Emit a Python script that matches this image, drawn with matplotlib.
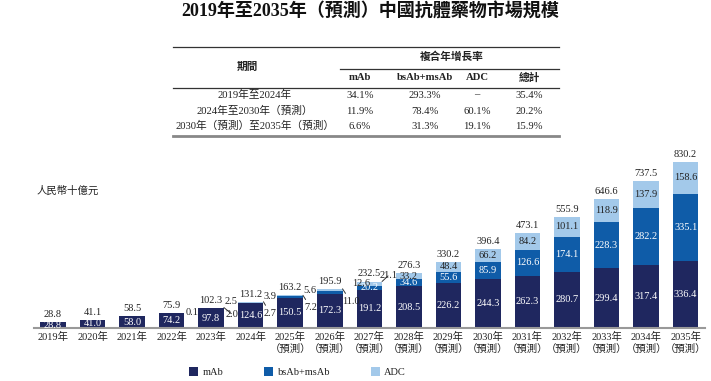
import matplotlib
matplotlib.use("Agg")
import matplotlib.pyplot as plt
from matplotlib.lines import Line2D
from matplotlib.patches import Patch
import numpy as np

plt.rcParams['font.family'] = ['Liberation Serif', 'Noto Sans CJK TC']

years = ["2019年", "2020年", "2021年", "2022年", "2023年", "2024年",
         "2025年\n（預測）", "2026年\n（預測）", "2027年\n（預測）", "2028年\n（預測）",
         "2029年\n（預測）", "2030年\n（預測）", "2031年\n（預測）", "2032年\n（預測）",
         "2033年\n（預測）", "2034年\n（預測）", "2035年\n（預測）"]
mab = [28.8, 41.0, 58.0, 74.2, 97.8, 124.6, 150.5, 172.3, 191.2, 208.5, 226.2,
       244.3, 262.3, 280.7, 299.4, 317.4, 336.4]
bsab = [0.0, 0.1, 0.5, 1.6, 2.0, 2.7, 7.2, 11.0, 20.2, 34.6, 55.6, 85.9, 126.6,
        174.1, 228.3, 282.2, 335.1]
adc = [0.0, 0.0, 0.0, 0.1, 2.5, 3.9, 5.6, 12.6, 21.1, 33.2, 48.4, 66.2, 84.2,
       101.1, 118.9, 137.9, 158.6]
totals = [28.8, 41.1, 58.5, 75.9, 102.3, 131.2, 163.2, 195.9, 232.5, 276.3, 330.2,
          396.4, 473.1, 555.9, 646.6, 737.5, 830.2]

table_periods = ["2019年至2024年", "2024年至2030年（預測）", "2030年（預測）至2035年（預測）"]
table_cols = ["mAb", "bsAb+msAb", "ADC", "總計"]
table_vals = [["34.1%", "293.3%", "–", "35.4%"],
              ["11.9%", "78.4%", "60.1%", "20.2%"],
              ["6.6%", "31.3%", "19.1%", "15.9%"]]

C_MAB = "#1f275f"
C_BS = "#0f5ca8"
C_ADC = "#a3c9ea"
TXT = "#222222"

W, H = 711, 381
fig = plt.figure(figsize=(W / 100, H / 100), dpi=100)

def fx(px):
    return px / W

def fy(py):
    return 1 - py / H

# Title
fig.text(fx(370), fy(12), "2019年至2035年（預測）中國抗體藥物市場規模", ha="center", va="center",
         fontsize=13, fontweight="bold", color="#111111")

# Table
def hline(x0, x1, y, lw=0.9, color="#333333"):
    fig.add_artist(Line2D([fx(x0), fx(x1)], [fy(y), fy(y)], lw=lw, color=color))

hline(173, 559, 47)
hline(340, 559, 69)
hline(173, 559, 88)
hline(173, 559, 136, lw=2.0, color="#888888")

fs_t = 7.7
fig.text(fx(247), fy(67), "期間", ha="center", va="center", fontsize=fs_t, fontweight="bold", color=TXT)
fig.text(fx(452), fy(57), "複合年增長率", ha="center", va="center", fontsize=fs_t, fontweight="bold", color=TXT)
col_x = [360, 425, 477, 529]
for cx, name in zip(col_x, table_cols):
    fig.text(fx(cx), fy(78), name, ha="center", va="center", fontsize=fs_t, fontweight="bold", color=TXT)
row_y = [95, 111, 126]
for ry, per, vals in zip(row_y, table_periods, table_vals):
    fig.text(fx(255), fy(ry), per, ha="center", va="center", fontsize=fs_t, color=TXT)
    for cx, v in zip(col_x, vals):
        fig.text(fx(cx), fy(ry), v, ha="center", va="center", fontsize=fs_t, color=TXT)

# Unit label
fig.text(fx(37), fy(191), "人民幣十億元", ha="left", va="center", fontsize=7.5, color=TXT, style="italic")

# Bars
ax = fig.add_axes([fx(34), fy(328), fx(705) - fx(34), fy(150) - fy(328)])
x = np.arange(len(years))
bw = 0.645
mab_a = np.array(mab)
bs_a = np.array(bsab)
adc_a = np.array(adc)
ax.bar(x, mab_a, bw, color=C_MAB, label="mAb")
ax.bar(x, bs_a, bw, bottom=mab_a, color=C_BS, label="bsAb+msAb")
ax.bar(x, adc_a, bw, bottom=mab_a + bs_a, color=C_ADC, label="ADC")
ax.set_xlim(-0.48, 16.49)
ax.set_ylim(0, 890)
for s in ["top", "right", "left"]:
    ax.spines[s].set_visible(False)
ax.spines["bottom"].set_color("#999999")
ax.spines["bottom"].set_linewidth(1.5)
ax.set_yticks([])
ax.set_xticks(x)
ax.set_xticklabels(years, fontsize=7.5, color=TXT, linespacing=1.15)
ax.tick_params(axis="x", length=0, pad=3)
ax.patch.set_alpha(0)

fs = 7.5
for i in range(len(x)):
    ax.annotate(f"{totals[i]:.1f}", (x[i], mab[i] + bsab[i] + adc[i]), xytext=(0, 3),
                textcoords="offset pixels", ha="center", va="bottom", fontsize=fs, color=TXT)
    ax.text(x[i], mab[i] / 2, f"{mab[i]:.1f}", ha="center", va="center", fontsize=fs, color="white")
    if i >= 8:
        ax.text(x[i], mab[i] + bsab[i] / 2, f"{bsab[i]:.1f}", ha="center", va="center",
                fontsize=fs, color="white")
    if i >= 9:
        ax.text(x[i], mab[i] + bsab[i] + adc[i] / 2, f"{adc[i]:.1f}", ha="center", va="center",
                fontsize=fs, color=TXT)

line_kw = dict(arrowstyle="-", color="#333333", lw=0.7, shrinkA=1, shrinkB=0)
# small-value callouts (offsets in pixels relative to bar top-right corner)
ax.annotate(f"{adc[3]:.1f}", (x[3] + bw / 2, totals[3]), xytext=(7.5, 0), textcoords="offset pixels",
            ha="center", va="center", fontsize=fs, color=TXT)
adc_off = {4: (7, 6.5), 5: (7, 5), 6: (7, 5), 7: (19, 5.5), 8: (7, 6.5)}
for i, (dx, dy) in adc_off.items():
    kw = dict(arrowprops=line_kw) if i == 8 else {}
    ax.annotate(f"{adc[i]:.1f}", (x[i] + bw / 2, totals[i]), xytext=(dx, dy), textcoords="offset pixels",
                ha="center", va="center", fontsize=fs, color=TXT, **kw)
bs_off = {4: (8.5, -7), 5: (7, -12), 6: (8, -12.6), 7: (8.5, -13)}
for i, (dx, dy) in bs_off.items():
    ax.annotate(f"{bsab[i]:.1f}", (x[i] + bw / 2, totals[i]), xytext=(dx, dy), textcoords="offset pixels",
                ha="center", va="center", fontsize=fs, color=TXT, arrowprops=line_kw)

# Legend
handles = [Patch(facecolor=C_MAB), Patch(facecolor=C_BS), Patch(facecolor=C_ADC)]
fig.legend(handles, ["mAb", "bsAb+msAb", "ADC"], loc="center left",
           bbox_to_anchor=(fx(189), fy(372)), ncol=3, frameon=False, fontsize=7.5,
           handlelength=0.9, handleheight=0.9, handletextpad=0.4, columnspacing=3.9,
           borderpad=0, borderaxespad=0, labelcolor=TXT)

fig.savefig("out.png", dpi=100)
